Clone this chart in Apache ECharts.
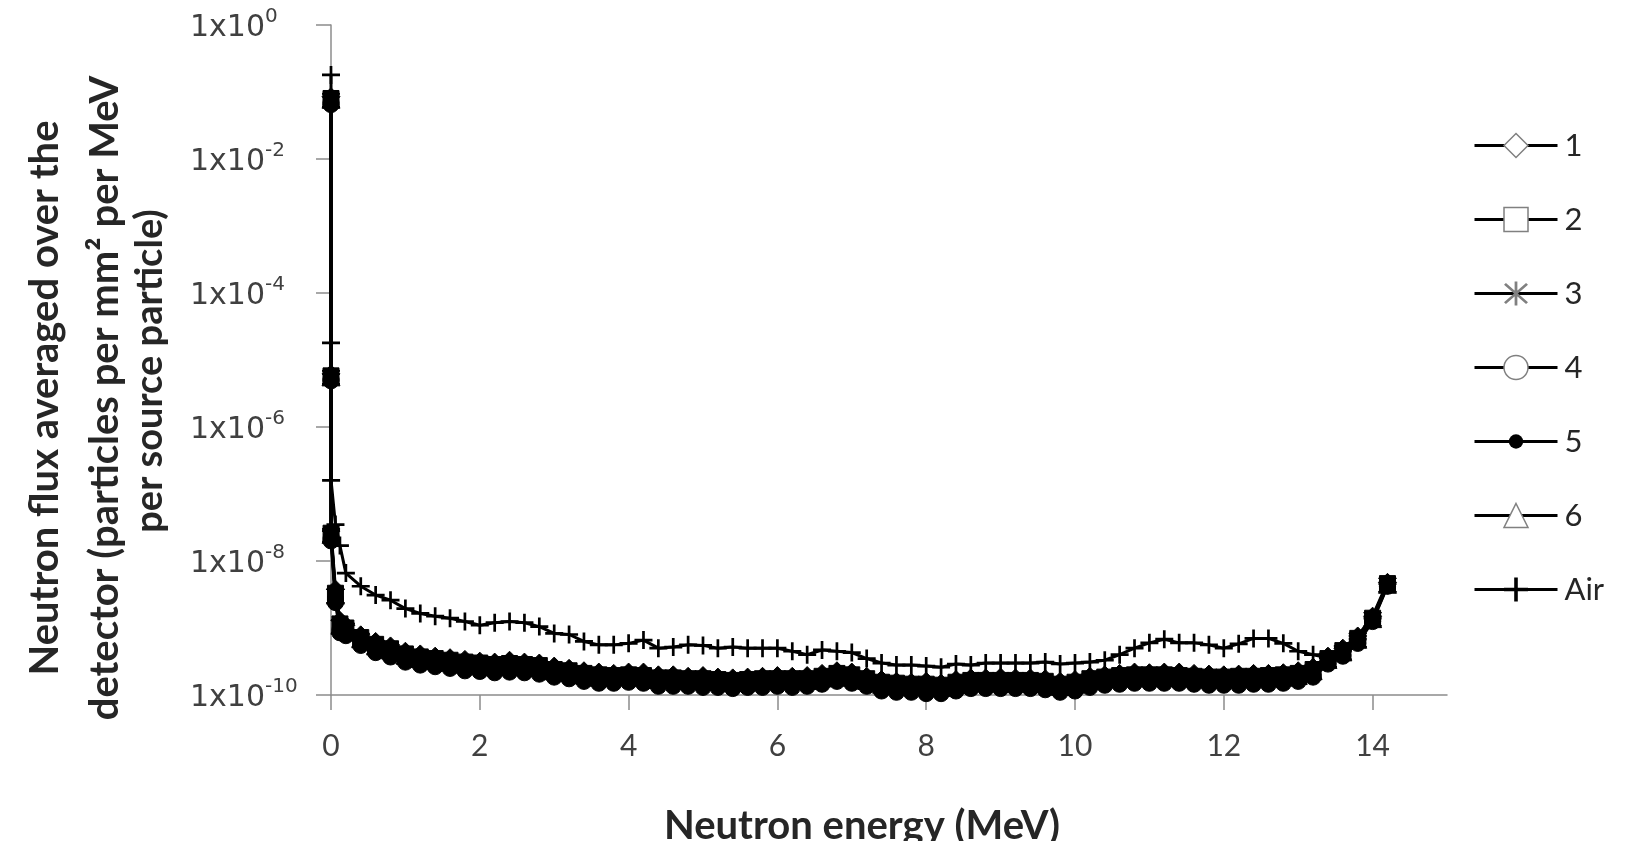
<!DOCTYPE html>
<html>
<head>
<meta charset="utf-8">
<title>Neutron flux spectra</title>
<script src="https://cdn.jsdelivr.net/npm/echarts@6/dist/echarts.min.js"></script>
<style>
  html, body { margin: 0; padding: 0; background: #ffffff; }
  #chart { width: 1625px; height: 841px; }
</style>
</head>
<body>
<div id="chart"></div>
<script>
// Neutron energy bins (MeV): the first points sit at thermal/epithermal energies
const energy = [
  0, 0.000001, 0.001, 0.06, 0.12,
  0.2, 0.4, 0.6, 0.8, 1.0, 1.2, 1.4, 1.6, 1.8, 2.0,
  2.2, 2.4, 2.6, 2.8, 3.0, 3.2, 3.4, 3.6, 3.8, 4.0,
  4.2, 4.4, 4.6, 4.8, 5.0, 5.2, 5.4, 5.6, 5.8, 6.0,
  6.2, 6.4, 6.6, 6.8, 7.0, 7.2, 7.4, 7.6, 7.8, 8.0,
  8.2, 8.4, 8.6, 8.8, 9.0, 9.2, 9.4, 9.6, 9.8, 10.0,
  10.2, 10.4, 10.6, 10.8, 11.0, 11.2, 11.4, 11.6, 11.8, 12.0,
  12.2, 12.4, 12.6, 12.8, 13.0, 13.2, 13.4, 13.6, 13.8, 14.0, 14.2
];

// Flux per mm^2 per MeV per source particle, one array per configuration
const flux1 = [
  0.085, 6.2e-6, 2.8e-8, 3.8e-9, 1.3e-9,
  1.1e-9, 7.9e-10, 6.3e-10, 5.4e-10, 4.5e-10, 4.1e-10, 3.8e-10, 3.6e-10, 3.4e-10, 3.2e-10,
  3.1e-10, 3.3e-10, 3.1e-10, 3.0e-10, 2.7e-10, 2.5e-10, 2.3e-10, 2.2e-10, 2.1e-10, 2.2e-10,
  2.2e-10, 2.0e-10, 2.0e-10, 1.9e-10, 1.95e-10, 1.85e-10, 1.8e-10, 1.85e-10, 1.9e-10, 1.95e-10,
  1.9e-10, 1.95e-10, 2.1e-10, 2.3e-10, 2.2e-10, 1.9e-10, 1.7e-10, 1.6e-10, 1.55e-10, 1.6e-10,
  1.5e-10, 1.7e-10, 1.8e-10, 1.8e-10, 1.85e-10, 1.8e-10, 1.8e-10, 1.75e-10, 1.6e-10, 1.7e-10,
  1.9e-10, 2.0e-10, 2.1e-10, 2.2e-10, 2.15e-10, 2.2e-10, 2.2e-10, 2.1e-10, 2.05e-10, 2.0e-10,
  2.05e-10, 2.1e-10, 2.1e-10, 2.15e-10, 2.3e-10, 2.6e-10, 3.8e-10, 5.0e-10, 7.6e-10, 1.5e-9, 4.8e-9
];
const flux2 = [
  0.08, 5.8e-6, 2.6e-8, 3.3e-9, 1.15e-9,
  1.0e-9, 7.2e-10, 5.7e-10, 4.9e-10, 4.1e-10, 3.7e-10, 3.5e-10, 3.3e-10, 3.1e-10, 3.0e-10,
  2.85e-10, 2.95e-10, 2.85e-10, 2.75e-10, 2.4e-10, 2.3e-10, 2.1e-10, 2.0e-10, 1.95e-10, 2.0e-10,
  1.95e-10, 1.8e-10, 1.8e-10, 1.75e-10, 1.75e-10, 1.7e-10, 1.65e-10, 1.7e-10, 1.75e-10, 1.75e-10,
  1.75e-10, 1.75e-10, 1.9e-10, 2.1e-10, 2.0e-10, 1.75e-10, 1.55e-10, 1.5e-10, 1.45e-10, 1.45e-10,
  1.4e-10, 1.55e-10, 1.65e-10, 1.65e-10, 1.65e-10, 1.65e-10, 1.65e-10, 1.6e-10, 1.45e-10, 1.55e-10,
  1.75e-10, 1.85e-10, 1.95e-10, 2.0e-10, 2.0e-10, 2.0e-10, 1.95e-10, 1.9e-10, 1.85e-10, 1.85e-10,
  1.9e-10, 1.9e-10, 1.95e-10, 2.0e-10, 2.1e-10, 2.4e-10, 3.5e-10, 4.6e-10, 7.0e-10, 1.4e-9, 4.6e-9
];
const flux3 = [
  0.075, 5.5e-6, 2.4e-8, 3.0e-9, 1.05e-9,
  9.3e-10, 6.6e-10, 5.2e-10, 4.5e-10, 3.7e-10, 3.4e-10, 3.2e-10, 3.0e-10, 2.8e-10, 2.7e-10,
  2.6e-10, 2.7e-10, 2.6e-10, 2.5e-10, 2.2e-10, 2.1e-10, 1.9e-10, 1.8e-10, 1.8e-10, 1.85e-10,
  1.8e-10, 1.65e-10, 1.65e-10, 1.6e-10, 1.6e-10, 1.55e-10, 1.5e-10, 1.55e-10, 1.6e-10, 1.6e-10,
  1.6e-10, 1.6e-10, 1.75e-10, 1.9e-10, 1.8e-10, 1.6e-10, 1.4e-10, 1.35e-10, 1.3e-10, 1.3e-10,
  1.25e-10, 1.4e-10, 1.5e-10, 1.5e-10, 1.5e-10, 1.5e-10, 1.5e-10, 1.45e-10, 1.3e-10, 1.4e-10,
  1.6e-10, 1.7e-10, 1.75e-10, 1.8e-10, 1.8e-10, 1.8e-10, 1.8e-10, 1.75e-10, 1.7e-10, 1.7e-10,
  1.7e-10, 1.75e-10, 1.75e-10, 1.8e-10, 1.9e-10, 2.2e-10, 3.3e-10, 4.3e-10, 6.6e-10, 1.35e-9, 4.4e-9
];
const flux4 = [
  0.07, 5.2e-6, 2.2e-8, 2.7e-9, 9.5e-10,
  8.6e-10, 6.1e-10, 4.8e-10, 4.1e-10, 3.4e-10, 3.1e-10, 2.95e-10, 2.75e-10, 2.6e-10, 2.5e-10,
  2.4e-10, 2.45e-10, 2.4e-10, 2.3e-10, 2.0e-10, 1.95e-10, 1.75e-10, 1.65e-10, 1.65e-10, 1.7e-10,
  1.65e-10, 1.5e-10, 1.5e-10, 1.5e-10, 1.45e-10, 1.4e-10, 1.4e-10, 1.4e-10, 1.45e-10, 1.5e-10,
  1.45e-10, 1.5e-10, 1.6e-10, 1.75e-10, 1.65e-10, 1.5e-10, 1.3e-10, 1.25e-10, 1.2e-10, 1.2e-10,
  1.15e-10, 1.3e-10, 1.4e-10, 1.35e-10, 1.4e-10, 1.4e-10, 1.35e-10, 1.35e-10, 1.2e-10, 1.3e-10,
  1.45e-10, 1.55e-10, 1.6e-10, 1.65e-10, 1.65e-10, 1.65e-10, 1.65e-10, 1.6e-10, 1.55e-10, 1.55e-10,
  1.55e-10, 1.6e-10, 1.6e-10, 1.65e-10, 1.75e-10, 2.0e-10, 3.1e-10, 4.0e-10, 6.2e-10, 1.3e-9, 4.3e-9
];
const flux5 = [
  0.065, 4.9e-6, 2.0e-8, 2.4e-9, 8.5e-10,
  7.7e-10, 5.5e-10, 4.3e-10, 3.7e-10, 3.1e-10, 2.8e-10, 2.65e-10, 2.5e-10, 2.3e-10, 2.25e-10,
  2.15e-10, 2.2e-10, 2.15e-10, 2.05e-10, 1.85e-10, 1.75e-10, 1.6e-10, 1.5e-10, 1.5e-10, 1.55e-10,
  1.5e-10, 1.35e-10, 1.35e-10, 1.35e-10, 1.3e-10, 1.3e-10, 1.25e-10, 1.3e-10, 1.3e-10, 1.35e-10,
  1.3e-10, 1.35e-10, 1.45e-10, 1.6e-10, 1.5e-10, 1.35e-10, 1.15e-10, 1.1e-10, 1.1e-10, 1.05e-10,
  1.05e-10, 1.15e-10, 1.25e-10, 1.25e-10, 1.25e-10, 1.25e-10, 1.25e-10, 1.2e-10, 1.1e-10, 1.15e-10,
  1.3e-10, 1.4e-10, 1.45e-10, 1.5e-10, 1.5e-10, 1.5e-10, 1.5e-10, 1.45e-10, 1.4e-10, 1.4e-10,
  1.4e-10, 1.45e-10, 1.45e-10, 1.5e-10, 1.6e-10, 1.85e-10, 2.9e-10, 3.8e-10, 5.9e-10, 1.25e-9, 4.2e-9
];
const flux6 = [
  0.078, 5.6e-6, 2.5e-8, 3.1e-9, 1.1e-9,
  9.7e-10, 6.9e-10, 5.4e-10, 4.7e-10, 3.9e-10, 3.5e-10, 3.3e-10, 3.1e-10, 2.9e-10, 2.8e-10,
  2.7e-10, 2.8e-10, 2.7e-10, 2.6e-10, 2.3e-10, 2.2e-10, 2.0e-10, 1.85e-10, 1.9e-10, 1.9e-10,
  1.85e-10, 1.7e-10, 1.7e-10, 1.65e-10, 1.65e-10, 1.6e-10, 1.55e-10, 1.6e-10, 1.65e-10, 1.65e-10,
  1.65e-10, 1.65e-10, 1.8e-10, 2.0e-10, 1.85e-10, 1.65e-10, 1.45e-10, 1.4e-10, 1.35e-10, 1.35e-10,
  1.3e-10, 1.45e-10, 1.55e-10, 1.55e-10, 1.55e-10, 1.55e-10, 1.55e-10, 1.5e-10, 1.35e-10, 1.45e-10,
  1.65e-10, 1.75e-10, 1.8e-10, 1.85e-10, 1.85e-10, 1.85e-10, 1.85e-10, 1.8e-10, 1.75e-10, 1.75e-10,
  1.75e-10, 1.8e-10, 1.8e-10, 1.85e-10, 1.95e-10, 2.3e-10, 3.4e-10, 4.4e-10, 6.8e-10, 1.38e-9, 4.5e-9
];
const fluxAir = [
  0.18, 1.8e-5, 1.6e-7, 3.5e-8, 1.7e-8,
  6.6e-9, 4.2e-9, 3.1e-9, 2.6e-9, 1.95e-9, 1.65e-9, 1.5e-9, 1.4e-9, 1.25e-9, 1.1e-9,
  1.2e-9, 1.25e-9, 1.2e-9, 1.05e-9, 8.3e-10, 8.0e-10, 6.3e-10, 5.6e-10, 5.6e-10, 5.9e-10,
  6.6e-10, 5.0e-10, 5.2e-10, 5.6e-10, 5.5e-10, 5.0e-10, 5.2e-10, 5.0e-10, 5.0e-10, 5.0e-10,
  4.5e-10, 4.0e-10, 4.7e-10, 4.5e-10, 4.3e-10, 3.5e-10, 3.0e-10, 2.8e-10, 2.8e-10, 2.7e-10,
  2.6e-10, 2.9e-10, 2.8e-10, 3.0e-10, 3.0e-10, 3.0e-10, 3.0e-10, 3.1e-10, 2.9e-10, 3.0e-10,
  3.1e-10, 3.3e-10, 4.0e-10, 5.0e-10, 6.0e-10, 6.8e-10, 6.0e-10, 6.0e-10, 5.6e-10, 5.0e-10,
  5.8e-10, 7.0e-10, 7.0e-10, 5.9e-10, 4.5e-10, 4.0e-10, 3.6e-10, 4.5e-10, 6.8e-10, 1.4e-9, 4.6e-9
];

const seriesNames = ['1', '2', '3', '4', '5', '6', 'Air'];
const xTickValues = [0, 2, 4, 6, 8, 10, 12, 14];

// Marker shapes. The dot carries zero-length corner moves so that its box
// is wider than the visible disc (keeps it small next to the other icons).
const PLUS = 'path://M8.5,0h3v20h-3z M0,8.5h20v3h-20z';
const ASTERISK = 'path://M9,0h2v20h-2z M1.3,2.7L2.7,1.3L18.7,17.3L17.3,18.7z M17.3,1.3L18.7,2.7L2.7,18.7L1.3,17.3z';
const DOT = 'path://M0,0L0,0M20,20L20,20M4,10A6,6 0 1,0 16,10A6,6 0 1,0 4,10Z';

const markers = [
  { symbol: 'diamond', size: 18, legendFill: '#ffffff' },
  { symbol: 'rect', size: 16, legendFill: '#ffffff' },
  { symbol: ASTERISK, size: 18, legendFill: '#808080' },
  { symbol: 'circle', size: 16, legendFill: '#ffffff' },
  { symbol: DOT, size: 27, legendFill: '#000000' },
  { symbol: 'triangle', size: 18, legendFill: '#ffffff' },
  { symbol: PLUS, size: 18, legendFill: '#000000' }
];
const fluxSets = [flux1, flux2, flux3, flux4, flux5, flux6, fluxAir];

const chart = echarts.init(document.getElementById('chart'), null, { renderer: 'canvas' });

const series = fluxSets.map((vals, k) => ({
  name: seriesNames[k],
  type: 'line',
  data: energy.map((e, i) => [e, vals[i]]),
  symbol: markers[k].symbol,
  symbolSize: markers[k].size,
  showAllSymbol: true,
  animation: false,
  lineStyle: { color: '#000000', width: 3 },
  itemStyle: { color: '#000000', borderColor: '#000000', borderWidth: k === 6 ? 0 : 1 },
  emphasis: { disabled: true },
  z: k === 6 ? 3 : 2
}));

const legendData = seriesNames.map((n, k) => ({
  name: n,
  itemStyle: {
    color: markers[k].legendFill,
    borderColor: '#808080',
    borderWidth: k === 2 || k === 4 || k === 6 ? 0 : 1.5
  },
  lineStyle: { color: '#000000', width: 3 }
}));

const tickFont = 'DejaVu Sans, Verdana, sans-serif';
const textFont = 'Lato, "Open Sans", sans-serif';

function titleText(x, y, rotated, text, size) {
  return {
    type: 'text',
    x: x,
    y: y,
    rotation: rotated ? Math.PI / 2 : 0,
    style: {
      text: text,
      fontFamily: textFont,
      fontWeight: 'bold',
      fontSize: size,
      fill: '#262626',
      align: 'center',
      verticalAlign: 'middle'
    }
  };
}

chart.setOption({
  backgroundColor: '#ffffff',
  animation: false,
  grid: { left: 331, top: 25, width: 1116, height: 670, containLabel: false },
  xAxis: {
    type: 'value',
    min: 0,
    max: 15,
    splitLine: { show: false },
    axisLine: { show: true, lineStyle: { color: '#8c8c8c', width: 1.5 } },
    axisTick: { show: true, length: 15, customValues: xTickValues, lineStyle: { color: '#8c8c8c', width: 1.5 } },
    axisLabel: {
      customValues: xTickValues,
      margin: 36,
      fontFamily: textFont,
      fontSize: 30,
      color: '#404040'
    }
  },
  yAxis: {
    type: 'log',
    logBase: 100,
    min: 1e-10,
    max: 1,
    splitLine: { show: false },
    axisLine: { show: true, lineStyle: { color: '#8c8c8c', width: 1.5 } },
    axisTick: { show: true, length: 15, lineStyle: { color: '#8c8c8c', width: 1.5 } },
    axisLabel: {
      align: 'left',
      margin: 141,
      formatter: function (v) {
        const p = Math.round(Math.log10(v));
        return '{b|1x10}{s|' + p + '}';
      },
      rich: {
        b: { fontFamily: tickFont, fontSize: 30, color: '#404040', lineHeight: 36, verticalAlign: 'bottom' },
        s: { fontFamily: tickFont, fontSize: 20, color: '#404040', lineHeight: 36, verticalAlign: 'top', padding: [0, 0, 14, 0] }
      }
    }
  },
  legend: {
    orient: 'vertical',
    left: 1473,
    top: 130,
    padding: 0,
    itemWidth: 83,
    itemHeight: 30,
    itemGap: 43,
    data: legendData,
    textStyle: { fontFamily: textFont, fontSize: 31, color: '#262626', padding: [0, 0, 0, 2] },
    selectedMode: false
  },
  graphic: [
    titleText(862, 826, false, 'Neutron energy (MeV)', 40),
    titleText(45, 398, true, 'Neutron flux averaged over the', 40),
    titleText(105, 398, true, 'detector (particles per mm² per MeV', 40),
    titleText(150, 371, true, 'per source particle)', 38)
  ],
  series: series
});
</script>
</body>
</html>
